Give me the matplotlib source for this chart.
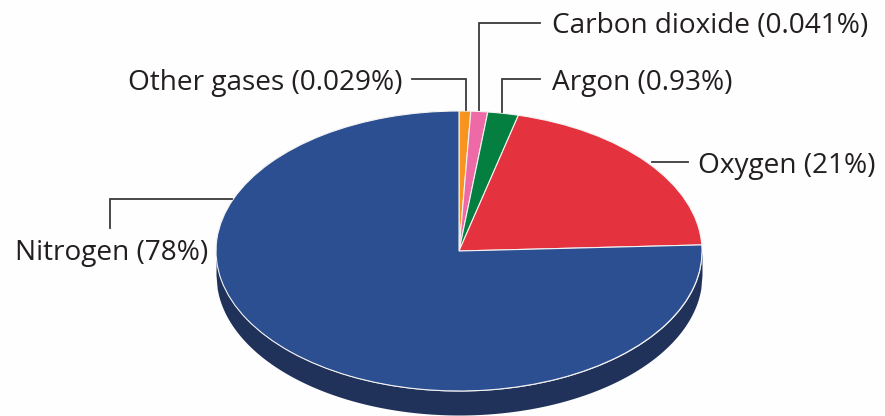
import matplotlib
matplotlib.use('Agg')
import matplotlib.pyplot as plt
import numpy as np

plt.rcParams['font.family'] = ['Open Sans', 'DejaVu Sans']

gases = ['Other gases', 'Carbon dioxide', 'Argon', 'Oxygen', 'Nitrogen']
percent = [0.029, 0.041, 0.93, 21, 78]
# smallest share a slice is drawn with, so the trace gases stay visible
min_share = [0.8, 1.15, 2.1, 0, 0]
colors = ['#f7941e', '#ee6aa7', '#047f3f', '#e5323f', '#2b4f91']

W, H = 885, 416
CX, CY = 459, 251   # pie centre
RX, RY = 243, 140   # ellipse radii
DEPTH = 24 / RY


def px(x, y):
    # pixel position to data units of the squashed pie
    return (x - CX) / RX, (CY - y) / RY


fig = plt.figure(figsize=(W / 100, H / 100), dpi=100, facecolor='#fefefe')
ax = fig.add_axes([0, 0, 1, 1])

shares = [max(p, m) for p, m in zip(percent, min_share)]
wedges, _ = ax.pie(shares, colors=colors, startangle=90, counterclock=False,
                   radius=1, wedgeprops=dict(edgecolor='#f4f2f2', linewidth=0.8))

# side of the disc
t = np.linspace(-1, 1, 400)
low = -np.sqrt(1 - t ** 2)
ax.fill_between(t, low, low - DEPTH, color='#20315a', lw=0, zorder=0)

ax.set_aspect('auto')
ax.set_xlim(px(0, 0)[0], px(W, 0)[0])
ax.set_ylim(px(0, H)[1], px(0, 0)[1])
ax.axis('off')

# leader lines
leaders = [
    [(412, 79), (466, 79), (466, 110)],
    [(540, 23), (479, 23), (479, 110)],
    [(540, 79), (502, 79), (502, 112)],
    [(652, 162), (688, 162)],
    [(232, 199), (110, 199), (110, 228)],
]
for pts in leaders:
    xy = np.array([px(*p) for p in pts])
    ax.plot(xy[:, 0], xy[:, 1], color='#3a3a3c', lw=1.3, solid_joinstyle='miter', zorder=5)

label_pos = [(128, 90), (552, 33), (552, 90), (698, 173), (15, 260)]
for name, p, pos in zip(gases, percent, label_pos):
    x, y = px(*pos)
    ax.text(x, y, f'{name} ({p:g}%)', fontsize=20.2, color='#231f20',
            ha='left', va='baseline', zorder=6)

fig.savefig('out.png', dpi=100, facecolor=fig.get_facecolor())
